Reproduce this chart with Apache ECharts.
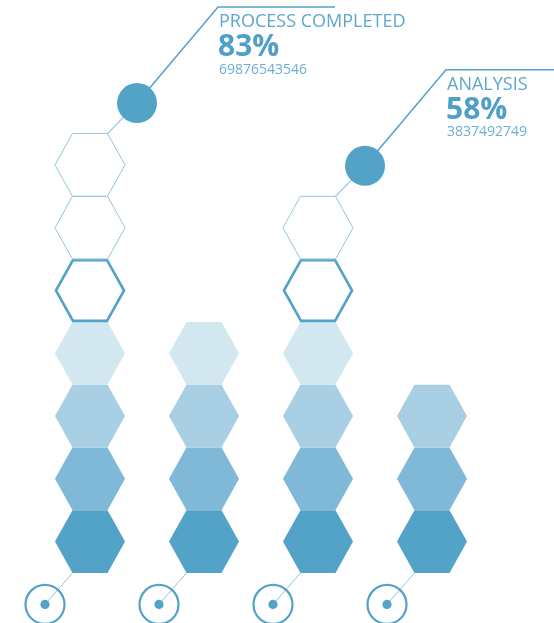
<!DOCTYPE html>
<html>
<head>
<meta charset="utf-8">
<script src="https://cdn.jsdelivr.net/npm/echarts@6/dist/echarts.min.js"></script>
<style>
  html, body { margin: 0; padding: 0; background: #fff; }
  #chart { width: 554px; height: 623px; }
</style>
</head>
<body>
<div id="chart"></div>
<script>
// columns, how many hexes are filled and how many are still open (outline only)
const columns = [0, 1, 2, 3]
const filledCounts = [4, 4, 4, 3]
const openCounts = [3, 0, 2, 0]
// callouts on top of some columns
const calloutColumns = [0, 2]
const calloutTitles = ['PROCESS COMPLETED', 'ANALYSIS']
const calloutPercents = ['83%', '58%']
const calloutNumbers = ['69876543546', '3837492749']

const levelColors = ['#53a2c8', '#80b9d7', '#a9cfe4', '#d3e7f0']
const mainColor = '#53a2c8'
const lightLine = '#93c4df'

const hexData = []
columns.forEach(function (c) {
  for (let l = 0; l < filledCounts[c]; l++) hexData.push([c, l, 'fill'])
  for (let k = 0; k < openCounts[c]; k++) hexData.push([c, filledCounts[c] + k, k === 0 ? 'next' : 'open'])
})

const calloutData = calloutColumns.map(function (c, i) {
  return [c, filledCounts[c] + openCounts[c], i]
})

function hexPoints(cx, cy, w, h) {
  return [
    [cx - w / 2, cy], [cx - w / 4, cy - h / 2], [cx + w / 4, cy - h / 2],
    [cx + w / 2, cy], [cx + w / 4, cy + h / 2], [cx - w / 4, cy + h / 2]
  ]
}

function hexSize(api) {
  const h = api.size([0, 1])[1]
  return { w: h * 70 / 62.7, h: h }
}

const chart = echarts.init(document.getElementById('chart'))

chart.setOption({
  animation: false,
  grid: { left: 33, right: 65, top: 8, bottom: 50 },
  xAxis: { type: 'value', min: -0.5, max: 3.5, show: false },
  yAxis: { type: 'value', min: 0, max: 9, show: false },
  series: [
    {
      // hexagon stacks
      type: 'custom',
      data: hexData,
      renderItem: function (params, api) {
        const c = api.value(0)
        const l = api.value(1)
        const kind = hexData[params.dataIndex][2]
        const s = hexSize(api)
        const p = api.coord([c, l + 0.5])
        let style
        if (kind === 'fill') {
          style = { fill: levelColors[l] || levelColors[3], stroke: null }
        } else if (kind === 'next') {
          style = { fill: 'none', stroke: mainColor, lineWidth: 2.6 }
        } else {
          style = { fill: 'none', stroke: lightLine, lineWidth: 1 }
        }
        const hp = kind === 'next' ? hexPoints(p[0], p[1], s.w - 2, s.h - 2) : hexPoints(p[0], p[1], s.w, s.h)
        return { type: 'polygon', shape: { points: hp }, style: style }
      }
    },
    {
      // little target circles under each column
      type: 'custom',
      data: columns.map(function (c) { return [c, 0] }),
      renderItem: function (params, api) {
        const s = hexSize(api)
        const base = api.coord([api.value(0), 0])
        const cx = base[0] - 45
        const cy = base[1] + s.h / 2
        return {
          type: 'group',
          children: [
            { type: 'line', shape: { x1: cx, y1: cy, x2: base[0] - s.w / 4, y2: base[1] }, style: { stroke: lightLine, lineWidth: 1 } },
            { type: 'circle', shape: { cx: cx, cy: cy, r: 19.5 }, style: { fill: 'none', stroke: mainColor, lineWidth: 2.2 } },
            { type: 'circle', shape: { cx: cx, cy: cy, r: 4.6 }, style: { fill: mainColor } }
          ]
        }
      }
    },
    {
      // callouts
      type: 'custom',
      data: calloutData,
      renderItem: function (params, api) {
        const s = hexSize(api)
        const top = api.coord([api.value(0), api.value(1)])
        const i = api.value(2)
        const vx = top[0] + s.w / 4
        const vy = top[1]
        const cx = vx + 29.5
        const cy = vy - 30.5
        const kx = cx + 81
        const ky = cy - 96
        const font = '"Open Sans", sans-serif'
        return {
          type: 'group',
          children: [
            { type: 'line', shape: { x1: vx, y1: vy, x2: cx, y2: cy }, style: { stroke: lightLine, lineWidth: 1.2 } },
            { type: 'polyline', shape: { points: [[cx, cy], [kx, ky], [kx + 117, ky]] }, style: { fill: 'none', stroke: mainColor, lineWidth: 1.5 } },
            { type: 'circle', shape: { cx: cx, cy: cy, r: 20 }, style: { fill: mainColor } },
            { type: 'text', x: kx + 1, y: ky + 15, style: { text: calloutTitles[i], font: '18px ' + font, fill: '#5ba7cd', verticalAlign: 'middle' } },
            { type: 'text', x: kx, y: ky + 40.5, style: { text: calloutPercents[i], font: 'bold 30px ' + font, fill: '#4f9fc7', verticalAlign: 'middle' } },
            { type: 'text', x: kx + 1, y: ky + 62.5, style: { text: calloutNumbers[i], font: '14px ' + font, fill: '#6aaed2', verticalAlign: 'middle' } }
          ]
        }
      }
    }
  ]
})
</script>
</body>
</html>
